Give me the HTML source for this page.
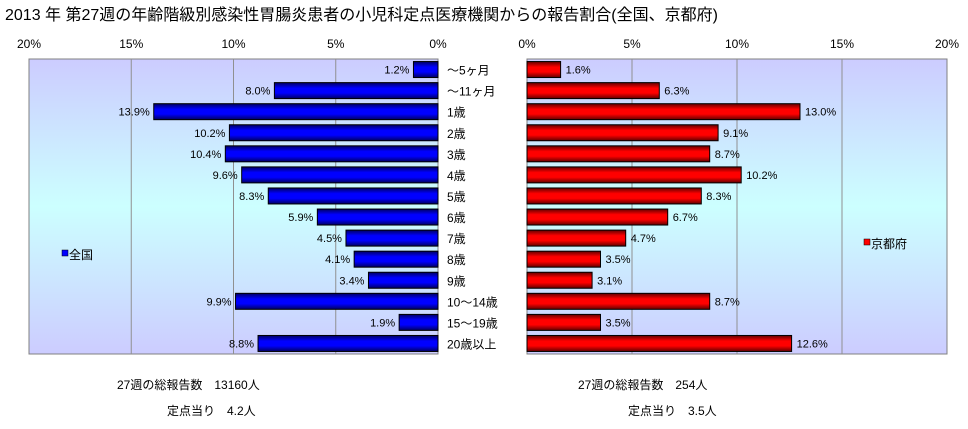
<!DOCTYPE html>
<html><head><meta charset="utf-8"><style>
body{margin:0;background:#fff;}
svg text{font-family:"Liberation Sans","Noto Sans CJK JP",sans-serif;}
</style></head><body>
<svg id="c" width="968" height="424" xmlns="http://www.w3.org/2000/svg">
<defs>
<linearGradient id="bg" x1="0" y1="0" x2="0" y2="1">
<stop offset="0" stop-color="#ccccff"/><stop offset="0.5" stop-color="#ccffff"/><stop offset="1" stop-color="#ccccff"/></linearGradient>
<linearGradient id="gb" x1="0" y1="0" x2="0" y2="1">
<stop offset="0" stop-color="#000060"/><stop offset="0.35" stop-color="#0000ff"/><stop offset="0.65" stop-color="#0000ff"/><stop offset="1" stop-color="#000060"/></linearGradient>
<linearGradient id="gr" x1="0" y1="0" x2="0" y2="1">
<stop offset="0" stop-color="#600000"/><stop offset="0.35" stop-color="#ff0000"/><stop offset="0.65" stop-color="#ff0000"/><stop offset="1" stop-color="#600000"/></linearGradient>
</defs>
<text x="5" y="20" font-size="16" fill="#000">2013 年 第27週の年齢階級別感染性胃腸炎患者の小児科定点医療機関からの報告割合(全国、京都府)</text>
<g id="g"></g>
<rect x="62" y="250" width="6" height="6" fill="#0000ff" stroke="#000" stroke-width="0.5"/>
<text x="69" y="259" font-size="12">全国</text>
<rect x="864" y="239" width="6" height="6" fill="#ff0000" stroke="#000" stroke-width="0.5"/>
<text x="871" y="248" font-size="12">京都府</text>
<text x="117" y="389" font-size="12">27週の総報告数　13160人</text>
<text x="167" y="415" font-size="12">定点当り　4.2人</text>
<text x="578" y="389" font-size="12">27週の総報告数　254人</text>
<text x="628" y="415" font-size="12">定点当り　3.5人</text>
</svg>
<script>
const categories=["～5ヶ月","～11ヶ月","1歳","2歳","3歳","4歳","5歳","6歳","7歳","8歳","9歳","10～14歳","15～19歳","20歳以上"];
const nationalValues=[1.2,8.0,13.9,10.2,10.4,9.6,8.3,5.9,4.5,4.1,3.4,9.9,1.9,8.8];
const kyotoValues=[1.6,6.3,13.0,9.1,8.7,10.2,8.3,6.7,4.7,3.5,3.1,8.7,3.5,12.6];
const tickValues=[0,5,10,15,20];
const NS="http://www.w3.org/2000/svg";
const g=document.getElementById('g');
const top0=59,bot0=354,rowH=(bot0-top0)/categories.length;
const xL=v=>438-v*(438-29)/20;
const xR=v=>527+v*(947-527)/20;
const yC=i=>top0+rowH*(i+0.5);
function mk(t,a){const e=document.createElementNS(NS,t);for(const k in a)e.setAttribute(k,a[k]);g.appendChild(e);return e;}
let e;
e=mk('rect',{x:29,y:top0,width:409,height:bot0-top0,fill:'url(#bg)',stroke:'#808080'});


e=mk('rect',{x:527,y:top0,width:420,height:bot0-top0,fill:'url(#bg)',stroke:'#808080'});


tickValues.forEach(v=>{
 if(v>0&&v<20){
  e=mk('line',{x1:xL(v),x2:xL(v),y1:top0,y2:bot0,stroke:'#909090'});
  
  
  e=mk('line',{x1:xR(v),x2:xR(v),y1:top0,y2:bot0,stroke:'#909090'});
  
  
 }
 e=mk('text',{x:xL(v),y:48,'font-size':12,'text-anchor':'middle'});e.textContent=v+'%';
 
 
 e=mk('text',{x:xR(v),y:48,'font-size':12,'text-anchor':'middle'});e.textContent=v+'%';
 
 
});
categories.forEach((c,i)=>{
 const y=yC(i),h=16;
 const nv=nationalValues[i],kv=kyotoValues[i];
 e=mk('rect',{x:xL(nv),y:y-h/2,width:xL(0)-xL(nv),height:h,fill:'url(#gb)',stroke:'#000'});
 
 
 e=mk('text',{x:xL(nv)-4,y:y+4,'font-size':11,'text-anchor':'end'});e.textContent=nv.toFixed(1)+'%';
 
 
 e=mk('rect',{x:xR(0),y:y-h/2,width:xR(kv)-xR(0),height:h,fill:'url(#gr)',stroke:'#000'});
 
 
 e=mk('text',{x:xR(kv)+5,y:y+4,'font-size':11});e.textContent=kv.toFixed(1)+'%';
 
 
 e=mk('text',{x:447,y:y+5,'font-size':12});e.textContent=c;
 
 
});
</script>
</body></html>
